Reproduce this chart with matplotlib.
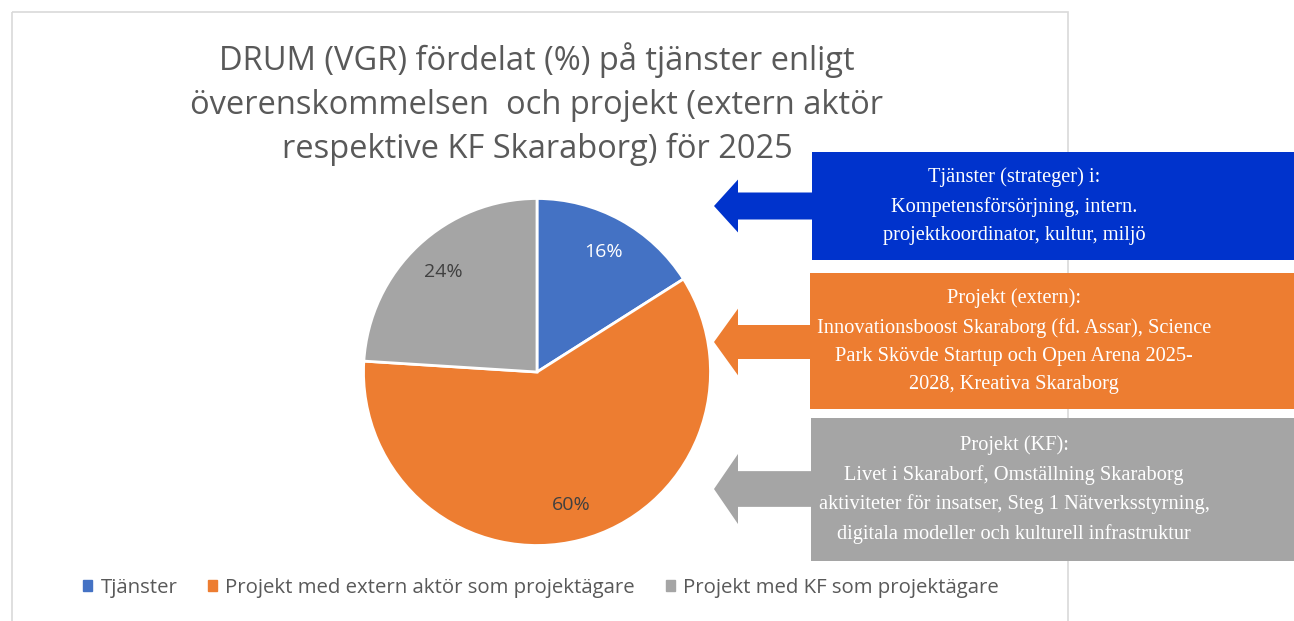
import matplotlib.pyplot as plt
from matplotlib.patches import Rectangle, Polygon

categories = ["Tjänster", "Projekt med extern aktör som projektägare", "Projekt med KF som projektägare"]
values = [16, 60, 24]
colors = ["#4472C4", "#ED7D31", "#A5A5A5"]
pct_colors = ["white", "#404040", "#404040"]

title = "DRUM (VGR) fördelat (%) på tjänster enligt\növerenskommelsen  och projekt (extern aktör\nrespektive KF Skaraborg) för 2025"

box_texts = [
    "Tjänster (strateger) i:\nKompetensförsörjning, intern.\nprojektkoordinator, kultur, miljö",
    "Projekt (extern):\nInnovationsboost Skaraborg (fd. Assar), Science\nPark Skövde Startup och Open Arena 2025-\n2028, Kreativa Skaraborg",
    "Projekt (KF):\nLivet i Skaraborf, Omställning Skaraborg\naktiviteter för insatser, Steg 1 Nätverksstyrning,\ndigitala modeller och kulturell infrastruktur",
]
box_colors = ["#0033CC", "#ED7D31", "#A5A5A5"]

W, H = 1294, 621
fig = plt.figure(figsize=(W / 100, H / 100), dpi=100)

# background layer in pixel coords
bg = fig.add_axes([0, 0, 1, 1])
bg.set_xlim(0, W)
bg.set_ylim(H, 0)
bg.axis("off")
bg.add_patch(Rectangle((12, 12), 1056, 640, fill=False, edgecolor="#D9D9D9", lw=1.2))

bg.text(537, 104, title, ha="center", va="center", fontsize=23.5, color="#595959",
        family="Open Sans", linespacing=1.45)

# pie
cx, cy, r = 537, 372, 173.5
ax = fig.add_axes([(cx - r) / W, (H - cy - r) / H, 2 * r / W, 2 * r / H])
wedges, texts, autotexts = ax.pie(values, colors=colors, startangle=90, counterclock=False,
                                  autopct="%d%%", pctdistance=0.79,
                                  wedgeprops=dict(edgecolor="white", linewidth=2))
for t, c in zip(autotexts, pct_colors):
    t.set_color(c)
    t.set_fontsize(14)
    t.set_family("Open Sans")
ax.set_xlim(-1, 1)
ax.set_ylim(-1, 1)
ax.axis("off")

# callout boxes with arrows
boxes = [(812, 152, 260, 206), (810, 273, 409, 342), (811, 418, 561, 489)]
for (x0, y0, y1, ym), col, txt in zip(boxes, box_colors, box_texts):
    bg.add_patch(Rectangle((x0, y0), W - x0, y1 - y0, color=col, lw=0))
    hh = (y1 - y0) * 0.245
    sh = (y1 - y0) * 0.125
    tip = 714
    neck = 738
    bg.add_patch(Polygon([(tip, ym), (neck, ym - hh), (neck, ym - sh), (x0 + 1, ym - sh),
                          (x0 + 1, ym + sh), (neck, ym + sh), (neck, ym + hh)],
                         closed=True, color=col, lw=0))
    bg.text(1014, (y0 + y1) / 2, txt, ha="center", va="center", color="white",
            fontsize=14.7, family="Liberation Serif", linespacing=1.65)

# legend
handles = [Rectangle((0, 0), 1, 1, color=c) for c in colors]
leg = fig.legend(handles, categories, loc="center", bbox_to_anchor=(541 / W, 1 - 588 / H),
                 ncol=3, frameon=False, handlelength=0.45, handleheight=0.45, handletextpad=0.4,
                 columnspacing=1.5, prop=dict(family="Open Sans", size=14.7))
for t in leg.get_texts():
    t.set_color("#595959")

fig.savefig("out.png", dpi=100)
